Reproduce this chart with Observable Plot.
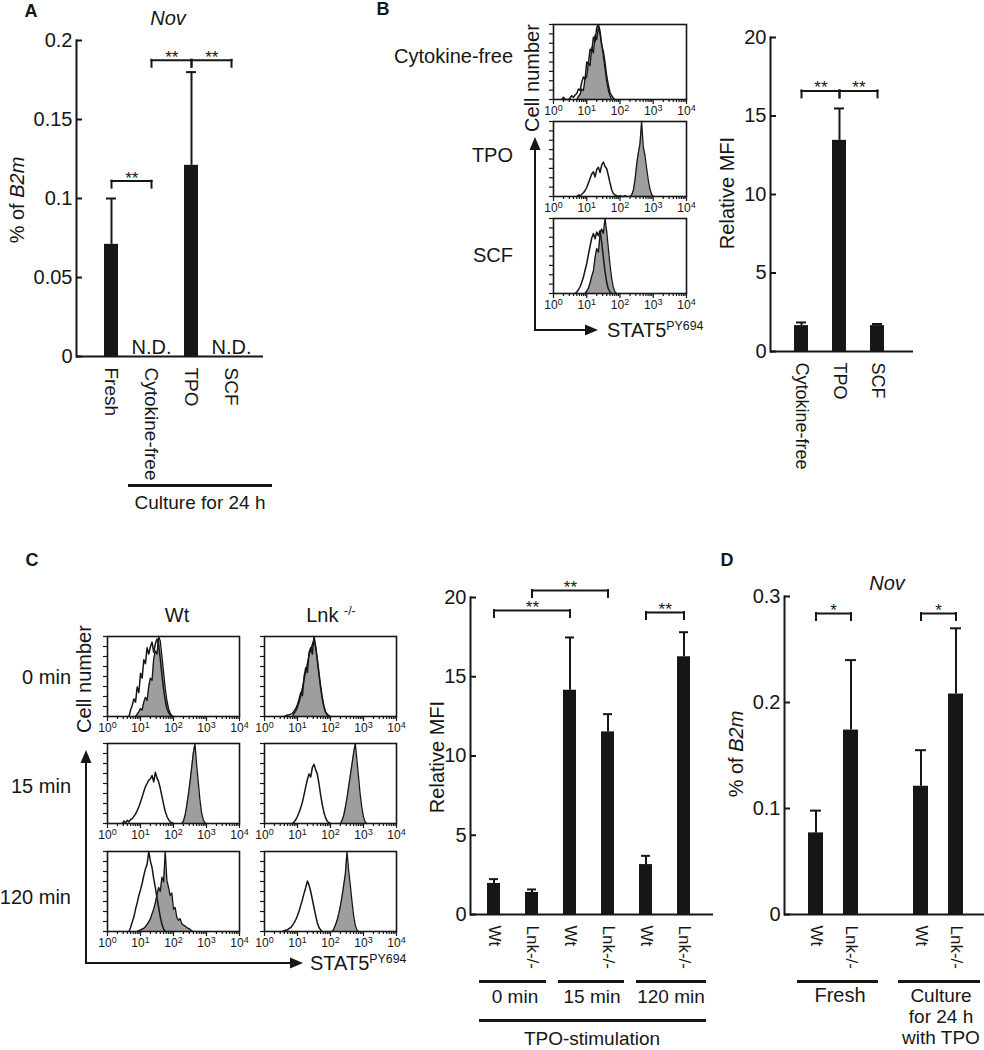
<!DOCTYPE html>
<html><head><meta charset="utf-8">
<script src="https://cdn.jsdelivr.net/npm/d3@7"></script>
<script src="https://cdn.jsdelivr.net/npm/@observablehq/plot@0.6"></script>
<style>
html,body{margin:0;padding:0;background:#fff}
#fig{position:relative;width:984px;height:1050px;overflow:hidden;background:#fff;font-family:"Liberation Sans",Arial,Helvetica,sans-serif;color:#161616}
.lbl{position:absolute;white-space:nowrap;line-height:1}
.lbl sup{font-size:62%;vertical-align:baseline;position:relative;top:-0.6em}
.pl{position:absolute}
.pl svg{overflow:visible;display:block}
.uline{position:absolute;height:3px;background:#161616}
</style></head><body><div id="fig"></div>
<script>
// ---------------- DATA ----------------
// Panel A: Nov expression (% of B2m)
const aCategories = ["Fresh", "Cytokine-free", "TPO", "SCF"];
const aNov = [0.071, null, 0.121, null];          // null = N.D.
const aNovErr = [0.029, null, 0.059, null];
const aTicks = [0, 0.05, 0.1, 0.15, 0.2];
const aBrackets = [
  {from: "Fresh", to: "Cytokine-free", y: 0.111, stars: "**"},
  {from: "Cytokine-free", to: "TPO", y: 0.1875, stars: "**"},
  {from: "TPO", to: "SCF", y: 0.1875, stars: "**"}
];

// Panel B: relative MFI
const bCategories = ["Cytokine-free", "TPO", "SCF"];
const bMFI = [1.65, 13.45, 1.65];
const bMFIErr = [0.2, 2.03, 0.1];
const mfiTicks = [0, 5, 10, 15, 20];
const bBrackets = [
  {from: "Cytokine-free", to: "TPO", y: 16.6, stars: "**"},
  {from: "TPO", to: "SCF", y: 16.6, stars: "**"}
];

// Panel C: relative MFI after TPO stimulation
const cTimes = ["0 min", "15 min", "120 min"];
const genotypes = ["Wt", "Lnk-/-"];
const cMFI = [1.96, 1.39, 14.15, 11.52, 3.15, 16.26];
const cMFIErr = [0.27, 0.19, 3.33, 1.12, 0.55, 1.55];
const cBrackets = [
  {from: "0 min|Wt", to: "15 min|Wt", y: 19.18, stars: "**"},
  {from: "0 min|Lnk-/-", to: "15 min|Lnk-/-", y: 20.44, stars: "**"},
  {from: "120 min|Wt", to: "120 min|Lnk-/-", y: 19.05, stars: "**"}
];

// Panel D: Nov expression
const dGroups = ["Fresh", "Culture"];
const dNov = [0.077, 0.174, 0.121, 0.208];
const dNovErr = [0.021, 0.066, 0.034, 0.062];
const dTicks = [0, 0.1, 0.2, 0.3];
const dBrackets = [
  {from: "Fresh|Wt", to: "Fresh|Lnk-/-", y: 0.284, stars: "*"},
  {from: "Culture|Wt", to: "Culture|Lnk-/-", y: 0.284, stars: "*"}
];

// Flow histograms: counts per channel (channel width BIN decades), starting at log10 "from"
const BIN = 0.05;
const decades = [1, 10, 100, 1000, 10000];
const decadeLabels = ["10^0", "10^1", "10^2", "10^3", "10^4"];
const histYTicks = [0, 12.5, 25, 37.5, 50, 62.5, 75, 87.5, 100];

const B_cyto_ctrl = {from: 0.25, counts: [0,3,0,0,0,2,5,3,6,8,14,12,23,30,27,50,47,67,64,83,77,96,100,91,72,64,49,31,19,9,5,2,0]};
const B_cyto_stim = {from: 0.70, counts: [0,4,7,14,12,28,30,49,45,69,62,86,80,97,87,74,57,40,24,12,5,0]};
const B_tpo_ctrl  = {from: 0.70, counts: [0,2,1,3,5,8,12,18,24,30,33,26,36,39,32,42,46,40,37,28,18,9,4,2,1,0,1,0,0,1,0]};
const B_tpo_stim  = {from: 2.30, counts: [0,2,8,22,42,58,70,100,66,55,38,22,10,3,0]};
const B_scf_ctrl  = {from: 0.65, counts: [0,2,5,9,15,22,31,40,52,63,74,80,73,82,77,84,68,48,29,15,6,2,0]};
const B_scf_stim  = {from: 0.95, counts: [0,3,7,14,23,30,48,60,55,79,86,80,100,83,60,38,20,8,2,0]};

const C_wt0_ctrl    = {from: 0.65, counts: [0,8,14,22,18,37,30,54,48,71,66,86,78,87,93,80,91,97,89,72,52,34,20,10,5,2,0]};
const C_wt0_stim    = {from: 0.85, counts: [0,3,6,10,8,18,24,20,38,48,45,72,82,78,100,94,75,55,35,20,10,4,1,0]};
const C_lnk0_ctrl   = {from: 0.60, counts: [0,1,2,2,3,4,7,10,15,22,30,26,50,61,55,80,86,78,100,88,72,55,38,24,13,6,3,1,0]};
const C_lnk0_stim   = {from: 0.85, counts: [0,4,7,12,18,26,36,46,56,66,76,84,90,96,86,70,52,36,22,12,5,2,0]};
const C_wt15_ctrl   = {from: 0.45, counts: [0,3,1,4,2,5,6,9,12,16,21,27,33,40,46,50,54,56,60,52,64,57,52,44,34,24,15,9,5,2,1,0]};
const C_wt15_stim   = {from: 2.25, counts: [0,3,10,22,36,52,70,88,100,74,52,30,14,5,1,0]};
const C_lnk15_ctrl  = {from: 0.85, counts: [0,2,5,9,14,20,27,36,46,55,62,58,70,74,67,62,50,36,24,14,7,3,1,0]};
const C_lnk15_stim  = {from: 2.30, counts: [0,4,10,20,32,46,60,74,88,100,80,58,36,20,8,2,0]};
const C_wt120_ctrl  = {from: 0.65, counts: [0,5,12,18,28,36,45,52,60,70,78,84,100,88,80,66,55,42,30,18,9,3,0]};
const C_wt120_stim  = {from: 0.90, counts: [0,1,2,3,4,6,9,12,16,22,28,36,46,55,50,68,62,100,64,55,45,48,28,30,18,14,16,10,8,7,5,4,3,1,0]};
const C_lnk120_ctrl = {from: 0.55, counts: [0,1,2,2,4,5,8,11,15,20,26,33,40,48,55,63,58,50,40,30,20,11,5,2,0]};
const C_lnk120_stim = {from: 2.05, counts: [0,3,8,14,22,32,44,58,72,100,76,58,38,20,8,2,0]};

// ---------------- RENDER ----------------
const INK = "#161616", GRAY = "#9e9e9e";
const FONT = '"Liberation Sans", Arial, Helvetica, sans-serif';
const fig = document.getElementById("fig");

function place(node, left, top) {
  const d = document.createElement("div");
  d.className = "pl"; d.style.left = left + "px"; d.style.top = top + "px";
  d.appendChild(node); fig.appendChild(d);
}
function label(html, x, y, o = {}) {
  const {size = 20, anchor = "middle", rotate = 0, weight = "normal"} = o;
  const d = document.createElement("div");
  d.className = "lbl"; d.innerHTML = html;
  d.style.left = x + "px"; d.style.top = y + "px";
  d.style.fontSize = size + "px"; d.style.fontWeight = weight;
  const tx = anchor === "middle" ? "-50%" : anchor === "end" ? "-100%" : "0";
  d.style.transform = `translate(${tx},-50%)` + (rotate ? ` rotate(${rotate}deg)` : "");
  fig.appendChild(d);
}
function uline(x1, x2, y) {
  const d = document.createElement("div");
  d.className = "uline"; d.style.left = x1 + "px"; d.style.width = (x2 - x1) + "px"; d.style.top = (y - 1.5) + "px";
  fig.appendChild(d);
}

function barChart({cats, rows, nd = [], tickText, yDomain, yTicks, brackets, frame, step, bw, firstX, starSize = 17, xFont = 19}) {
  const {left, top, width, height, ml, mr, mt, mb} = frame;
  const n = cats.length, range = width - mr - ml;
  const pi = 1 - bw / step;
  const po = (range / step - (n - pi)) / 2;
  const align = (firstX - left - bw / 2 - ml) / (2 * po * step);
  const idx = c => cats.indexOf(c);
  const bracketMarks = brackets.flatMap(b => [
    Plot.link([b], {x1: "from", x2: "to", y1: "y", y2: "y", stroke: INK, strokeWidth: 2, strokeLinecap: "square"}),
    Plot.ruleX([{x: b.from, y: b.y}, {x: b.to, y: b.y}], {x: "x", y1: "y", y2: "y", insetBottom: -7, stroke: INK, strokeWidth: 2, strokeLinecap: "square"}),
    Plot.text([b], {x: "from", y: "y", text: "stars", dx: step * (idx(b.to) - idx(b.from)) / 2, dy: -3, fontSize: starSize})
  ]);
  const svg = Plot.plot({
    width, height, marginLeft: ml, marginRight: mr, marginTop: mt, marginBottom: mb,
    style: {fontFamily: FONT, fontSize: "20px", color: INK, background: "none", overflow: "visible"},
    x: {domain: cats, paddingInner: pi, paddingOuter: po, align, label: null},
    y: {domain: yDomain, label: null},
    marks: [
      Plot.barY(rows, {x: "cat", y: "value", fill: INK}),
      Plot.ruleX(rows, {x: "cat", y1: "value", y2: d => d.value + d.err, stroke: INK, strokeWidth: 2}),
      Plot.tickY(rows, {x: "cat", y: d => d.value + d.err, stroke: INK, strokeWidth: 2, insetLeft: 2, insetRight: 2}),
      Plot.ruleY([0], {stroke: INK, strokeWidth: 2}),
      Plot.frame({anchor: "left", stroke: INK, strokeWidth: 2}),
      Plot.axisY({ticks: yTicks, tickFormat: d => String(d), tickSize: -6, tickPadding: 10, stroke: INK, strokeWidth: 2, fontSize: 20, label: null}),
      Plot.axisX({tickSize: 0, tickPadding: 11, tickRotate: 90, tickFormat: tickText, fontSize: xFont, label: null}),
      Plot.text(nd, {x: d => d, y: () => 0, text: () => "N.D.", dy: -9, fontSize: 20}),
      ...bracketMarks
    ]
  });
  place(svg, left, top);
}

function histogram(ctrl, stim, left, top, w, h) {
  const ml = 8, mr = 14, mt = 3, mb = 26;
  const pts = c => c.counts.map((v, i) => ({x: 10 ** (c.from + i * BIN), y: v}));
  const minor = decades.slice(0, 4).flatMap(d => [2, 3, 4, 5, 6, 7, 8, 9].map(k => k * d));
  const svg = Plot.plot({
    width: w + ml + mr, height: h + mt + mb, marginLeft: ml, marginRight: mr, marginTop: mt, marginBottom: mb,
    style: {fontFamily: FONT, fontSize: "12px", color: INK, background: "none", overflow: "visible"},
    x: {type: "log", domain: [1, 1e4], label: null},
    y: {domain: [0, 100], label: null},
    marks: [
      Plot.areaY(pts(stim), {x: "x", y: "y", fill: GRAY}),
      Plot.lineY(pts(stim), {x: "x", y: "y", stroke: INK, strokeWidth: 1.3}),
      Plot.lineY(pts(ctrl), {x: "x", y: "y", stroke: INK, strokeWidth: 1.5}),
      Plot.frame({stroke: INK, strokeWidth: 1.6}),
      Plot.axisY({ticks: histYTicks, tickSize: 4, tickFormat: () => "", label: null, stroke: INK, strokeWidth: 1.2}),
      Plot.axisX({ticks: decades, tickSize: 5, tickPadding: 2, tickFormat: d => decadeLabels[decades.indexOf(d)], label: null, stroke: INK, strokeWidth: 1.2}),
      Plot.axisX({ticks: minor, tickSize: 3, tickFormat: () => "", label: null, stroke: INK, strokeWidth: 1.2})
    ]
  });
  // render "10^k" labels as 10 with a raised exponent
  d3.select(svg).selectAll("text").each(function () {
    const m = /^10\^(\d)$/.exec(this.textContent);
    if (m) {
      const s = d3.select(this);
      s.text("10");
      s.append("tspan").attr("dy", "-0.45em").attr("font-size", "9px").text(m[1]);
    }
  });
  place(svg, left - ml, top - mt);
}

// ---- Panel A
barChart({
  cats: aCategories,
  rows: aCategories.map((c, i) => ({cat: c, value: aNov[i], err: aNovErr[i]})).filter(d => d.value != null),
  nd: aCategories.filter((c, i) => aNov[i] == null),
  tickText: d => d, yDomain: [0, 0.2], yTicks: aTicks, brackets: aBrackets,
  frame: {left: 0, top: 0, width: 280, height: 480, ml: 76, mr: 17, mt: 40, mb: 124},
  step: 40.5, bw: 14, firstX: 110, xFont: 19
});
label("<i>Nov</i>", 168, 18, {size: 20});
label("% of <i>B2m</i>", 17, 200, {rotate: -90});
uline(128, 272, 485);
label("Culture for 24 h", 200, 502, {size: 19});

// ---- Panel B bars
barChart({
  cats: bCategories,
  rows: bCategories.map((c, i) => ({cat: c, value: bMFI[i], err: bMFIErr[i]})),
  tickText: d => d, yDomain: [0, 20], yTicks: mfiTicks, brackets: bBrackets,
  frame: {left: 700, top: 0, width: 230, height: 520, ml: 70, mr: 17, mt: 37, mb: 169},
  step: 38.75, bw: 14.5, firstX: 800.5, xFont: 18
});
label("Relative MFI", 727, 193, {rotate: -90});

// ---- Panel B histograms
const bRows = [["Cytokine-free", B_cyto_ctrl, B_cyto_stim], ["TPO", B_tpo_ctrl, B_tpo_stim], ["SCF", B_scf_ctrl, B_scf_stim]];
const bTops = [24, 121, 218], bLabelY = [56, 155, 255];
bRows.forEach(([name, ctrl, stim], i) => {
  histogram(ctrl, stim, 553, bTops[i], 133, 75);
  label(name, 513, bLabelY[i], {anchor: "end"});
});
label("Cell number", 532, 78, {rotate: -90});
label("STAT5<sup>PY694</sup>", 607, 330, {anchor: "start"});

// ---- Panel C bars
const cCats = cTimes.flatMap(t => genotypes.map(g => t + "|" + g));
barChart({
  cats: cCats,
  rows: cCats.map((c, i) => ({cat: c, value: cMFI[i], err: cMFIErr[i]})),
  tickText: d => d.split("|")[1], yDomain: [0, 20], yTicks: mfiTicks, brackets: cBrackets,
  frame: {left: 400, top: 560, width: 330, height: 490, ml: 70, mr: 17, mt: 37, mb: 136},
  step: 38.4, bw: 13.5, firstX: 493, xFont: 17
});
label("Relative MFI", 437, 757, {rotate: -90});
[[479, 546, 515], [558, 624, 592], [636, 706, 671]].forEach(([x1, x2, xc], i) => {
  uline(x1, x2, 981);
  label(cTimes[i], xc, 996, {size: 19});
});
uline(479, 706, 1020);
label("TPO-stimulation", 592, 1038, {size: 19});

// ---- Panel C histograms
const cHist = [[C_wt0_ctrl, C_wt0_stim, C_lnk0_ctrl, C_lnk0_stim],
               [C_wt15_ctrl, C_wt15_stim, C_lnk15_ctrl, C_lnk15_stim],
               [C_wt120_ctrl, C_wt120_stim, C_lnk120_ctrl, C_lnk120_stim]];
const cTops = [636, 743, 851], cRowLabelY = [677, 786, 897];
cHist.forEach((r, i) => {
  histogram(r[0], r[1], 107, cTops[i], 132, 80);
  histogram(r[2], r[3], 264, cTops[i], 132, 80);
  label(cTimes[i], 71, cRowLabelY[i], {anchor: "end"});
});
label("Wt", 177, 615);
label("Lnk <sup>-/-</sup>", 331, 615);
label("Cell number", 84, 679, {rotate: -90});
label("STAT5<sup>PY694</sup>", 310, 963, {anchor: "start"});

// ---- Panel D bars
const dCats = [...genotypes.map(g => dGroups[0] + "|" + g), "gap", ...genotypes.map(g => dGroups[1] + "|" + g)];
const dKeys = dGroups.flatMap(gr => genotypes.map(g => gr + "|" + g));
barChart({
  cats: dCats,
  rows: dKeys.map((c, i) => ({cat: c, value: dNov[i], err: dNovErr[i]})),
  tickText: d => d.includes("|") ? d.split("|")[1] : "", yDomain: [0, 0.3], yTicks: dTicks, brackets: dBrackets,
  frame: {left: 720, top: 560, width: 264, height: 490, ml: 64, mr: 0, mt: 36, mb: 136},
  step: 35, bw: 14.5, firstX: 815.5, xFont: 17
});
label("<i>Nov</i>", 887, 583);
label("% of <i>B2m</i>", 736, 754, {rotate: -90});
uline(797, 878, 981);
label("Fresh", 840, 995);
uline(898, 980, 981);
label("Culture", 941, 995, {size: 19});
label("for 24 h", 941, 1016, {size: 19});
label("with TPO", 941, 1037, {size: 19});

// ---- Axis arrows for the histogram blocks
const arrows = [
  {x1: 535, y1: 330, x2: 535, y2: 137}, {x1: 535, y1: 330, x2: 598, y2: 330},
  {x1: 86, y1: 963, x2: 86, y2: 750}, {x1: 86, y1: 963, x2: 303, y2: 963}
];
const ov = d3.create("svg").attr("width", 984).attr("height", 1050)
  .style("position", "absolute").style("left", 0).style("top", 0).style("pointer-events", "none");
arrows.forEach(a => {
  const vert = a.x1 === a.x2, L = 13, W = 5.5;
  const bx = vert ? a.x2 : a.x2 - L, by = vert ? a.y2 + L : a.y2;
  ov.append("line").attr("x1", a.x1).attr("y1", a.y1).attr("x2", bx).attr("y2", by)
    .attr("stroke", INK).attr("stroke-width", 2).attr("stroke-linecap", "square");
  const pts = vert ? [[a.x2, a.y2], [a.x2 - W, by], [a.x2 + W, by]] : [[a.x2, a.y2], [bx, a.y2 - W], [bx, a.y2 + W]];
  ov.append("polygon").attr("points", pts.map(p => p.join(",")).join(" ")).attr("fill", INK);
});
fig.appendChild(ov.node());

// ---- Panel letters
label("A", 31, 11, {size: 18, weight: "bold"});
label("B", 383, 9, {size: 18, weight: "bold"});
label("C", 32, 560, {size: 18, weight: "bold"});
label("D", 727, 560, {size: 18, weight: "bold"});
</script></body></html>
